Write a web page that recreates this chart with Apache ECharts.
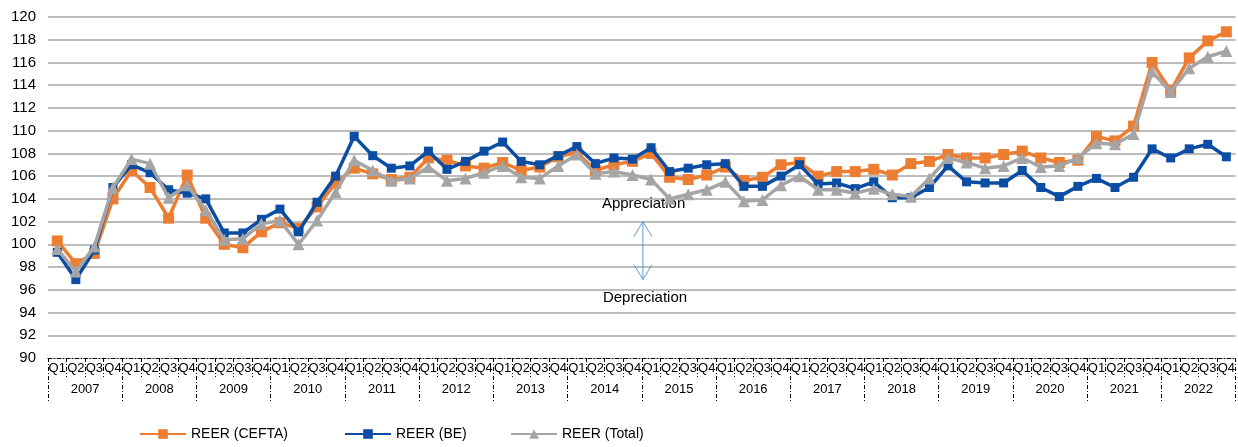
<!DOCTYPE html>
<html>
<head>
<meta charset="utf-8">
<script src="https://cdn.jsdelivr.net/npm/echarts@6/dist/echarts.min.js"></script>
<style>
html,body{margin:0;padding:0;background:#fff;}
#chart{width:1238px;height:447px;}
</style>
</head>
<body>
<div id="chart"></div>
<script>
var years = ['2007','2008','2009','2010','2011','2012','2013','2014','2015','2016','2017','2018','2019','2020','2021','2022'];
var quarterNames = ['Q1','Q2','Q3','Q4'];
var yTicks = {min: 90, max: 120, step: 2};
var seriesNames = ['REER (CEFTA)', 'REER (BE)', 'REER (Total)'];

var reerCefta = [100.3,98.3,99.2,104.0, 106.5,105.0,102.3,106.1, 102.3,100.0,99.7,101.1, 101.9,101.4,103.3,105.4,
  106.7,106.2,105.7,105.9, 107.6,107.4,106.9,106.7, 107.2,106.5,106.8,107.7, 108.1,106.5,107.0,107.3,
  108.0,105.9,105.7,106.1, 106.8,105.6,105.9,107.0, 107.2,106.0,106.4,106.4, 106.6,106.1,107.1,107.3,
  107.9,107.6,107.6,107.9, 108.2,107.6,107.2,107.4, 109.5,109.1,110.4,116.0, 113.5,116.4,117.9,118.7];
var reerBe = [99.3,96.9,99.5,105.0, 107.0,106.3,104.8,104.5, 104.0,101.0,101.0,102.2, 103.1,101.1,103.7,106.0,
  109.5,107.8,106.7,106.9, 108.2,106.6,107.3,108.2, 109.0,107.3,107.0,107.8, 108.6,107.1,107.6,107.5,
  108.5,106.4,106.7,107.0, 107.1,105.1,105.1,106.0, 107.0,105.3,105.4,104.9, 105.5,104.1,104.1,105.0,
  106.9,105.5,105.4,105.4, 106.5,105.0,104.2,105.1, 105.8,105.0,105.9,108.4, 107.6,108.4,108.8,107.7];
var reerTotal = [99.6,97.6,99.8,105.0, 107.5,107.1,104.1,105.2, 103.0,100.4,100.5,101.8, 102.1,100.0,102.1,104.6,
  107.4,106.5,105.6,105.8, 106.8,105.6,105.8,106.3, 106.9,105.9,105.8,106.9, 107.9,106.2,106.4,106.1,
  105.7,104.0,104.4,104.8, 105.5,103.8,103.9,105.2, 106.0,104.8,104.8,104.5, 104.9,104.4,104.2,105.8,
  107.6,107.2,106.7,106.9, 107.6,106.8,106.9,107.6, 108.9,108.8,109.7,115.2, 113.4,115.5,116.5,117.0];

var quarters = [];
years.forEach(function(){ quarterNames.forEach(function(q){ quarters.push(q); }); });

var FONT = 'Liberation Sans, Arial, sans-serif';
var dashDot = [4, 2, 1, 2];

function legendFor(name, left) {
  return {
    left: left, top: 422,
    itemWidth: 46, itemHeight: 12,
    textStyle: {fontFamily: FONT, fontSize: 14, color: '#000'},
    data: [name]
  };
}

var chart = echarts.init(document.getElementById('chart'));
var option = {
  animation: false,
  textStyle: {fontFamily: FONT},
  grid: {left: 48, right: 2, top: 17, bottom: 89, containLabel: false},
  legend: [legendFor(seriesNames[0], 134), legendFor(seriesNames[1], 339), legendFor(seriesNames[2], 505)],
  xAxis: [{
    type: 'category', data: quarters, boundaryGap: true, position: 'bottom',
    axisLine: {show: true, lineStyle: {color: '#000', width: 1, type: dashDot}},
    axisTick: {show: true, interval: 0, length: 19, lineStyle: {color: '#000', width: 1, type: dashDot}},
    axisLabel: {interval: 0, margin: 4, fontSize: 13, color: '#000', fontFamily: FONT},
    splitLine: {show: false}
  }, {
    type: 'category', data: years, boundaryGap: true, position: 'bottom',
    axisLine: {show: false},
    axisTick: {show: true, interval: 0, length: 44, lineStyle: {color: '#000', width: 1, type: dashDot}},
    axisLabel: {interval: 0, margin: 25, fontSize: 13, color: '#000', fontFamily: FONT},
    splitLine: {show: false}
  }],
  yAxis: {
    type: 'value', min: yTicks.min, max: yTicks.max, interval: yTicks.step,
    axisLine: {show: false}, axisTick: {show: false},
    axisLabel: {fontSize: 15, color: '#000', margin: 12, fontFamily: FONT},
    splitLine: {show: true, showMinLine: false, lineStyle: {color: '#a6a6a6', width: 1.5}}
  },
  series: [{
    name: seriesNames[0], type: 'line', data: reerCefta, z: 2,
    symbol: 'rect', symbolSize: 11, showAllSymbol: true,
    lineStyle: {color: '#ED7D31', width: 3.5}, itemStyle: {color: '#ED7D31'}
  }, {
    name: seriesNames[1], type: 'line', data: reerBe, z: 3,
    symbol: 'rect', symbolSize: 9, showAllSymbol: true,
    lineStyle: {color: '#0B4DA2', width: 3.5}, itemStyle: {color: '#0B4DA2'}
  }, {
    name: seriesNames[2], type: 'line', data: reerTotal, z: 4,
    symbol: 'triangle', symbolSize: 12, showAllSymbol: true,
    lineStyle: {color: '#A5A5A5', width: 3.5}, itemStyle: {color: '#A5A5A5'}
  }]
};
chart.setOption(option);

// annotation: Appreciation / Depreciation with double arrow
var ax = chart.convertToPixel({xAxisIndex: 0}, 31) + (18.56 * 0.56);
var yTop = chart.convertToPixel({yAxisIndex: 0}, 102.0);
var yBot = chart.convertToPixel({yAxisIndex: 0}, 96.9);
var yApp = chart.convertToPixel({yAxisIndex: 0}, 103.55);
var yDep = chart.convertToPixel({yAxisIndex: 0}, 95.3);
var arrowColor = '#5B9BD5';
chart.setOption({
  graphic: [
    {type: 'text', x: ax - 41, y: yApp, style: {text: 'Appreciation', font: '15px ' + FONT, fill: '#000', textVerticalAlign: 'middle'}},
    {type: 'text', x: ax - 40, y: yDep, style: {text: 'Depreciation', font: '15px ' + FONT, fill: '#000', textVerticalAlign: 'middle'}},
    {type: 'line', shape: {x1: ax, y1: yTop, x2: ax, y2: yBot}, style: {stroke: arrowColor, lineWidth: 1}},
    {type: 'polyline', shape: {points: [[ax - 9, yTop + 15], [ax, yTop], [ax + 9, yTop + 15]]}, style: {stroke: arrowColor, lineWidth: 1, fill: null}},
    {type: 'polyline', shape: {points: [[ax - 9, yBot - 15], [ax, yBot], [ax + 9, yBot - 15]]}, style: {stroke: arrowColor, lineWidth: 1, fill: null}}
  ]
});
</script>
</body>
</html>
